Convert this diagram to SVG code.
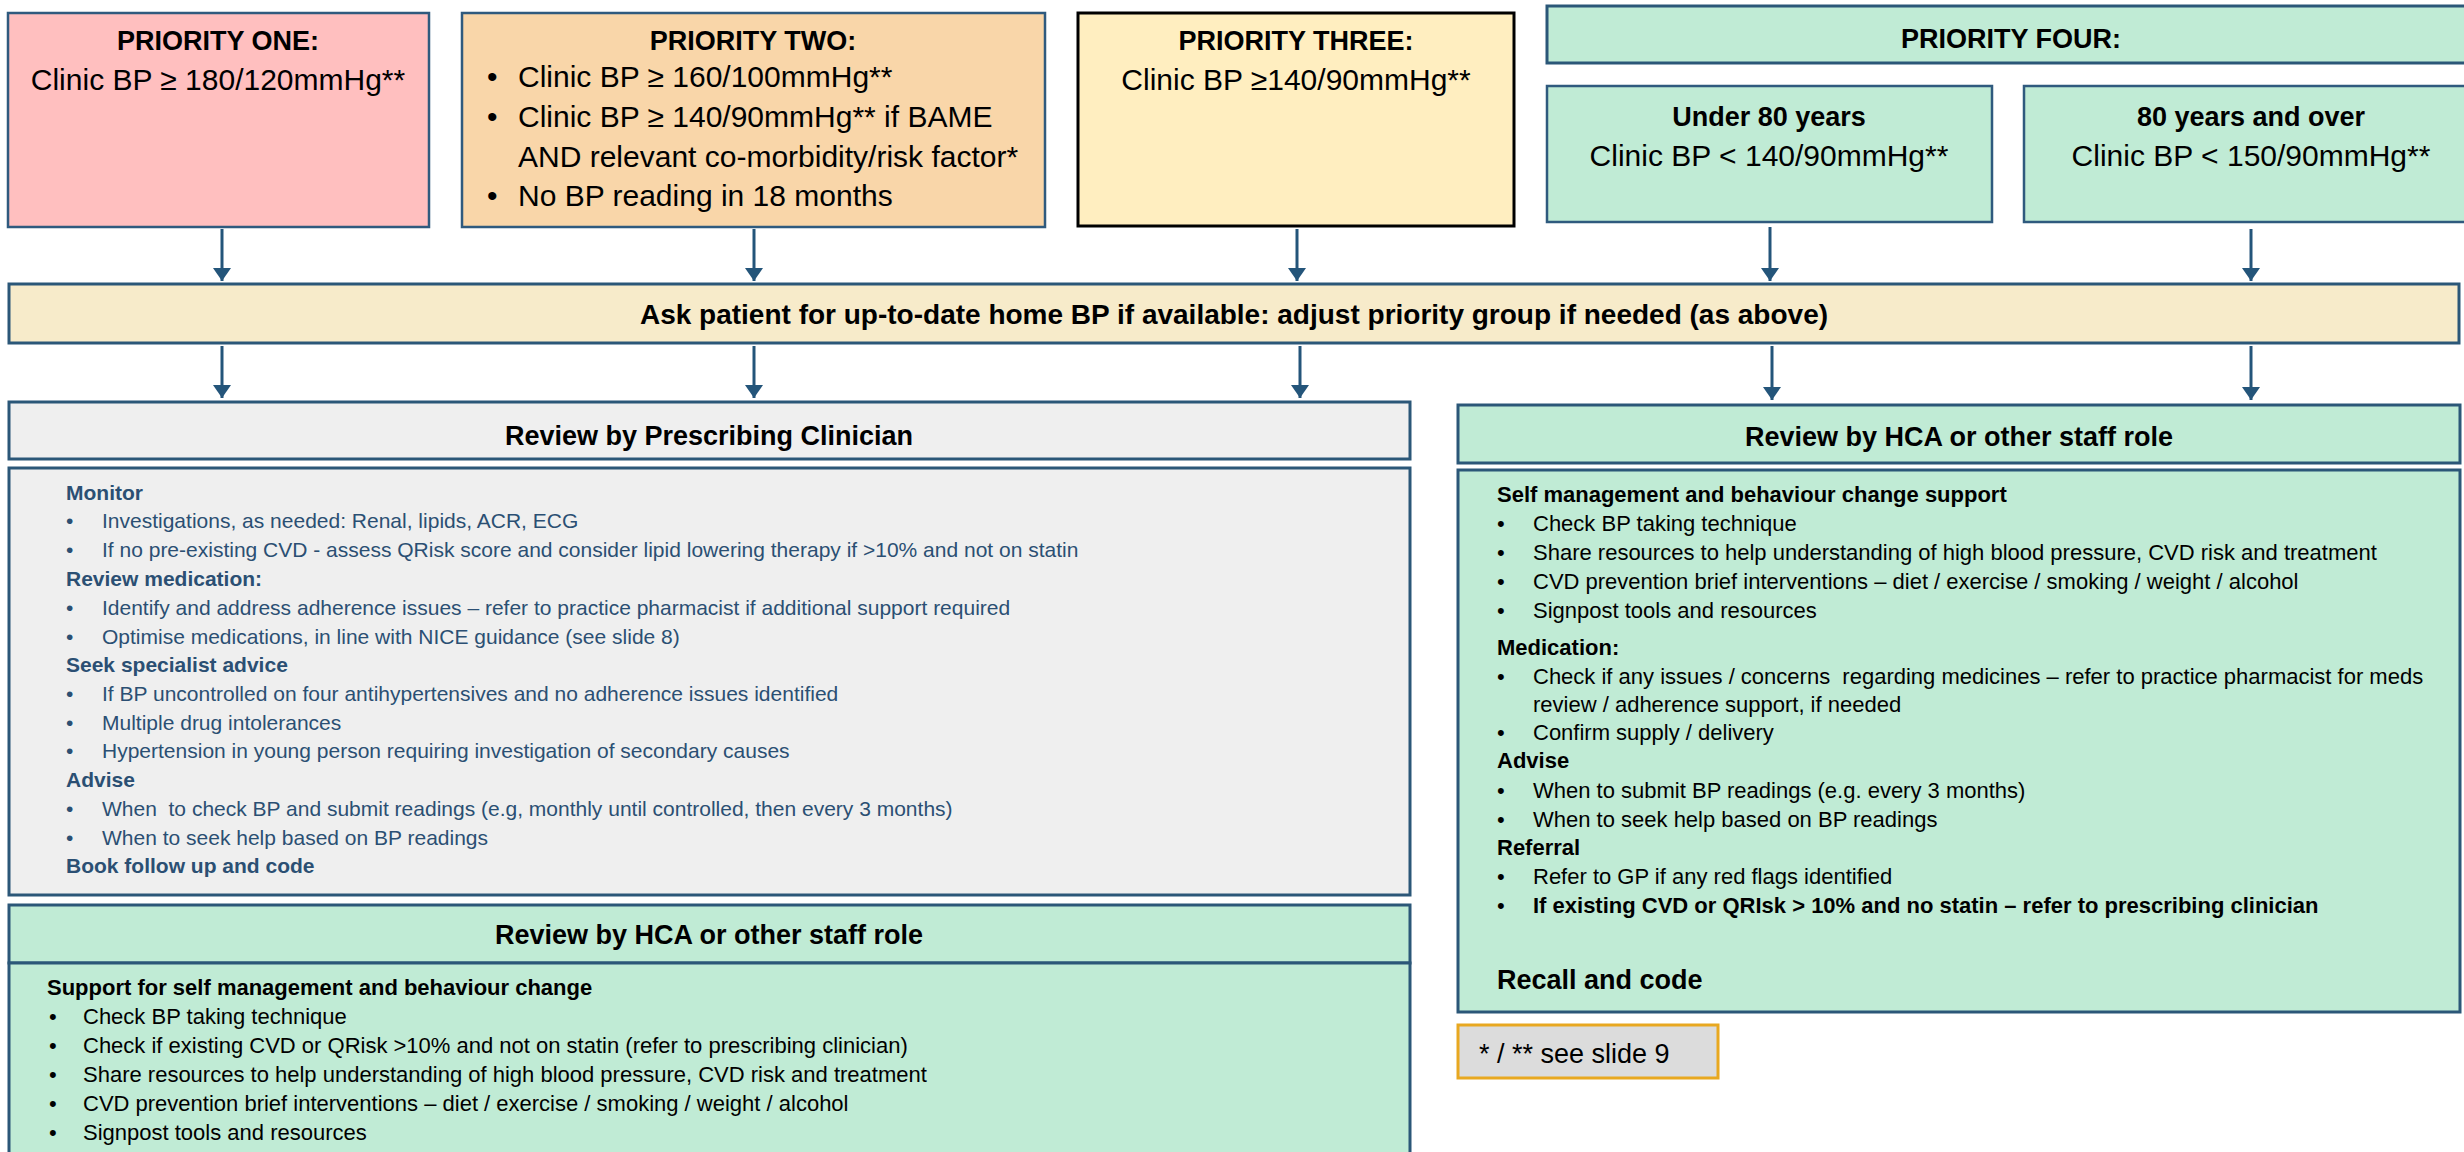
<svg xmlns="http://www.w3.org/2000/svg" width="2464" height="1152" viewBox="0 0 2464 1152">
<defs>
<marker id="ah" viewBox="0 0 13 18" refX="13" refY="9" markerWidth="13" markerHeight="18" markerUnits="userSpaceOnUse" orient="auto">
<path d="M0,0 L13,9 L0,18 Z" fill="#24557A"/>
</marker>
<style>
text{font-family:"Liberation Sans",Arial,sans-serif;fill:#000}
.h{font-weight:bold;font-size:27px;text-anchor:middle}
.p{font-size:30px}
.pc{font-size:30px;text-anchor:middle}
.b{font-size:21px;fill:#2B4F73}
.bb{font-size:21px;fill:#2B4F73;font-weight:bold}
.g{font-size:22px}
.gb{font-size:22px;font-weight:bold}
.box{stroke:#2F5A7E;stroke-width:2.5}
.con line{stroke:#24557A;stroke-width:3;marker-end:url(#ah)}
</style>
</defs>
<rect width="2464" height="1152" fill="#fff"/>

<g id="p1">
<rect class="box" x="8" y="13" width="421" height="214" fill="#FFBFBF"/>
<text class="h" x="218" y="50">PRIORITY ONE:</text>
<text class="pc" x="218" y="90">Clinic BP ≥ 180/120mmHg**</text>
</g>

<g id="p2">
<rect class="box" x="462" y="13" width="583" height="214" fill="#F9D6A9"/>
<text class="h" x="753" y="50">PRIORITY TWO:</text>
<text class="p" x="487" y="87">•</text><text class="p" x="518" y="87">Clinic BP ≥ 160/100mmHg**</text>
<text class="p" x="487" y="127">•</text><text class="p" x="518" y="127">Clinic BP ≥ 140/90mmHg** if BAME</text>
<text class="p" x="518" y="167">AND relevant co-morbidity/risk factor*</text>
<text class="p" x="487" y="206">•</text><text class="p" x="518" y="206">No BP reading in 18 months</text>
</g>

<g id="p3">
<rect x="1078" y="13" width="436" height="213" fill="#FFEEC0" stroke="#000" stroke-width="3"/>
<text class="h" x="1296" y="50">PRIORITY THREE:</text>
<text class="pc" x="1296" y="90">Clinic BP ≥140/90mmHg**</text>
</g>

<g id="p4">
<rect x="1547" y="6" width="930" height="57" fill="#C0EBD5" stroke="#2B5778" stroke-width="3"/>
<text class="h" x="2011" y="48">PRIORITY FOUR:</text>
</g>

<g id="p4a">
<rect class="box" x="1547" y="86" width="445" height="136" fill="#C0EBD5"/>
<text class="h" x="1769" y="126">Under 80 years</text>
<text class="pc" x="1769" y="166">Clinic BP &lt; 140/90mmHg**</text>
</g>

<g id="p4b">
<rect class="box" x="2024" y="86" width="460" height="136" fill="#C0EBD5"/>
<text class="h" x="2251" y="126">80 years and over</text>
<text class="pc" x="2251" y="166">Clinic BP &lt; 150/90mmHg**</text>
</g>

<g id="banner">
<rect x="9" y="284" width="2450" height="59" fill="#F7EBCA" stroke="#2B5778" stroke-width="3"/>
<text class="h" x="1234" y="324" style="font-size:28px">Ask patient for up-to-date home BP if available: adjust priority group if needed (as above)</text>
</g>

<g id="presc-head">
<rect x="9" y="402" width="1401" height="57" fill="#EFEFEF" stroke="#2B5778" stroke-width="3"/>
<text class="h" x="709" y="445">Review by Prescribing Clinician</text>
</g>

<g id="presc-body">
<rect x="9" y="468" width="1401" height="427" fill="#EFEFEF" stroke="#2B5778" stroke-width="3"/>
<text class="bb" x="66" y="500">Monitor</text>
<text class="b" x="66" y="528">•</text><text class="b" x="102" y="528">Investigations, as needed: Renal, lipids, ACR, ECG</text>
<text class="b" x="66" y="557">•</text><text class="b" x="102" y="557">If no pre-existing CVD - assess QRisk score and consider lipid lowering therapy if &gt;10% and not on statin</text>
<text class="bb" x="66" y="586">Review medication:</text>
<text class="b" x="66" y="615">•</text><text class="b" x="102" y="615">Identify and address adherence issues – refer to practice pharmacist if additional support required</text>
<text class="b" x="66" y="644">•</text><text class="b" x="102" y="644">Optimise medications, in line with NICE guidance (see slide 8)</text>
<text class="bb" x="66" y="672">Seek specialist advice</text>
<text class="b" x="66" y="701">•</text><text class="b" x="102" y="701">If BP uncontrolled on four antihypertensives and no adherence issues identified</text>
<text class="b" x="66" y="730">•</text><text class="b" x="102" y="730">Multiple drug intolerances</text>
<text class="b" x="66" y="758">•</text><text class="b" x="102" y="758">Hypertension in young person requiring investigation of secondary causes</text>
<text class="bb" x="66" y="787">Advise</text>
<text class="b" x="66" y="816">•</text><text class="b" x="102" y="816" xml:space="preserve">When  to check BP and submit readings (e.g, monthly until controlled, then every 3 months)</text>
<text class="b" x="66" y="845">•</text><text class="b" x="102" y="845">When to seek help based on BP readings</text>
<text class="bb" x="66" y="873">Book follow up and code</text>
</g>

<g id="hca-left-head">
<rect x="9" y="905" width="1401" height="58" fill="#C0EBD5" stroke="#2B5778" stroke-width="3"/>
<text class="h" x="709" y="944">Review by HCA or other staff role</text>
</g>

<g id="hca-left-body">
<rect x="9" y="963" width="1401" height="200" fill="#C0EBD5" stroke="#2B5778" stroke-width="3"/>
<text class="gb" x="47" y="995">Support for self management and behaviour change</text>
<text class="g" x="49" y="1024">•</text><text class="g" x="83" y="1024">Check BP taking technique</text>
<text class="g" x="49" y="1053">•</text><text class="g" x="83" y="1053">Check if existing CVD or QRisk &gt;10% and not on statin (refer to prescribing clinician)</text>
<text class="g" x="49" y="1082">•</text><text class="g" x="83" y="1082">Share resources to help understanding of high blood pressure, CVD risk and treatment</text>
<text class="g" x="49" y="1111">•</text><text class="g" x="83" y="1111">CVD prevention brief interventions – diet / exercise / smoking / weight / alcohol</text>
<text class="g" x="49" y="1140">•</text><text class="g" x="83" y="1140">Signpost tools and resources</text>
</g>

<g id="hca-right-head">
<rect x="1458" y="405" width="1002" height="58" fill="#C0EBD5" stroke="#2B5778" stroke-width="3"/>
<text class="h" x="1959" y="446">Review by HCA or other staff role</text>
</g>

<g id="hca-right-body">
<rect x="1458" y="470" width="1002" height="542" fill="#C0EBD5" stroke="#2B5778" stroke-width="3"/>
<text class="gb" x="1497" y="502">Self management and behaviour change support</text>
<text class="g" x="1497" y="531">•</text><text class="g" x="1533" y="531">Check BP taking technique</text>
<text class="g" x="1497" y="560">•</text><text class="g" x="1533" y="560">Share resources to help understanding of high blood pressure, CVD risk and treatment</text>
<text class="g" x="1497" y="589">•</text><text class="g" x="1533" y="589">CVD prevention brief interventions – diet / exercise / smoking / weight / alcohol</text>
<text class="g" x="1497" y="618">•</text><text class="g" x="1533" y="618">Signpost tools and resources</text>
<text class="gb" x="1497" y="655">Medication:</text>
<text class="g" x="1497" y="684">•</text><text class="g" x="1533" y="684" xml:space="preserve">Check if any issues / concerns  regarding medicines – refer to practice pharmacist for meds</text>
<text class="g" x="1533" y="712">review / adherence support, if needed</text>
<text class="g" x="1497" y="740">•</text><text class="g" x="1533" y="740">Confirm supply / delivery</text>
<text class="gb" x="1497" y="768">Advise</text>
<text class="g" x="1497" y="798">•</text><text class="g" x="1533" y="798">When to submit BP readings (e.g. every 3 months)</text>
<text class="g" x="1497" y="827">•</text><text class="g" x="1533" y="827">When to seek help based on BP readings</text>
<text class="gb" x="1497" y="855">Referral</text>
<text class="g" x="1497" y="884">•</text><text class="g" x="1533" y="884">Refer to GP if any red flags identified</text>
<text class="g" x="1497" y="913">•</text><text class="gb" x="1533" y="913">If existing CVD or QRIsk &gt; 10% and no statin – refer to prescribing clinician</text>
<text class="gb" x="1497" y="989" style="font-size:27px">Recall and code</text>
</g>

<g id="footnote">
<rect x="1458" y="1025" width="260" height="53" fill="#DCDCDC" stroke="#E8A820" stroke-width="3"/>
<text x="1479" y="1063" style="font-size:27px">* / ** see slide 9</text>
</g>

<g id="connectors" class="con">
<line x1="222" y1="229" x2="222" y2="281"/>
<line x1="754" y1="229" x2="754" y2="281"/>
<line x1="1297" y1="229" x2="1297" y2="281"/>
<line x1="1770" y1="227" x2="1770" y2="281"/>
<line x1="2251" y1="229" x2="2251" y2="281"/>
<line x1="222" y1="346" x2="222" y2="398"/>
<line x1="754" y1="346" x2="754" y2="398"/>
<line x1="1300" y1="346" x2="1300" y2="398"/>
<line x1="1772" y1="346" x2="1772" y2="400"/>
<line x1="2251" y1="346" x2="2251" y2="400"/>
</g>
</svg>
